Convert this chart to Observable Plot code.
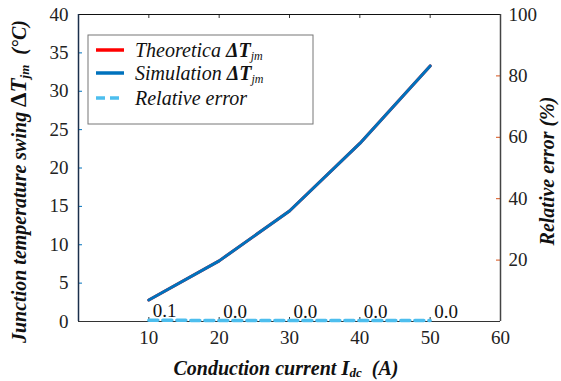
<!DOCTYPE html>
<html>
<head>
<meta charset="utf-8">
<script src="https://cdn.jsdelivr.net/npm/d3@7"></script>
<script src="https://cdn.jsdelivr.net/npm/@observablehq/plot@0.6"></script>
</head>
<body style="margin:0;padding:0;background:#fff">
<div id="chart"></div>
<script>
// ---- data ----
const current = [10, 20, 30, 40, 50];                 // Conduction current (A)
const theoretical = [2.8, 7.9, 14.4, 23.2, 33.3];     // Theoretical ΔTjm (°C)
const simulation = [2.8, 7.9, 14.4, 23.2, 33.3];      // Simulation ΔTjm (°C)
const relError = [0.1, 0.0, 0.0, 0.0, 0.0];           // Relative error (%)
const xTicks = [10, 20, 30, 40, 50, 60];
const yTicks = [0, 5, 10, 15, 20, 25, 30, 35, 40];
const y2Ticks = [20, 40, 60, 80, 100];

const W = 561, H = 381;
const mL = 78, mR = 61, mT = 14, mB = 60;
const pw = W - mL - mR, ph = H - mT - mB;
const k = 40 / 100; // right axis (%) -> left axis units
const SERIF = "Liberation Serif";

const rows = current.map((c, i) => ({x: c, th: theoretical[i], sim: simulation[i], err: relError[i]}));

const BLUE = "#0072BD", RED = "#FF0000", CYAN = "#4DBEEE", ORANGE = "#D95319";

const chart = Plot.plot({
  width: W, height: H,
  marginLeft: mL, marginRight: mR, marginTop: mT, marginBottom: mB,
  style: {background: "#fff", overflow: "visible", fontFamily: SERIF},
  x: {domain: [0, 60]},
  y: {domain: [0, 40]},
  marks: [
    Plot.axisX({ticks: xTicks, tickSize: 0, tickPadding: 9, fontSize: 19, label: null, fill: "#222"}),
    Plot.axisY({ticks: yTicks, tickSize: 0, tickPadding: 10, fontSize: 19, label: null, fill: "#222"}),
    Plot.axisY({anchor: "right", ticks: y2Ticks.map(v => v * k), tickFormat: v => Math.round(v / k), tickSize: 0, tickPadding: 8, fontSize: 19, label: null, textAnchor: "start", fill: "#222"}),
    Plot.tickY(yTicks, {y: d => d, insetRight: pw - 4, stroke: BLUE, strokeWidth: 1}),
    Plot.tickY(y2Ticks.map(v => v * k), {y: d => d, insetLeft: pw - 4, stroke: ORANGE, strokeWidth: 1}),
    Plot.tickX(current, {x: d => d, insetTop: ph - 4, stroke: "#333", strokeWidth: 1}),
    Plot.tickX(current, {x: d => d, insetBottom: ph - 4, stroke: "#333", strokeWidth: 1}),
    Plot.ruleY([40], {stroke: "#111", strokeWidth: 1.2}),
    Plot.ruleY([0], {stroke: "#333", strokeWidth: 1.2}),
    Plot.ruleX([0], {stroke: "#1b2f4b", strokeWidth: 1.5}),
    Plot.ruleX([60], {stroke: "#444", strokeWidth: 1.5}),
    Plot.line(rows, {x: "x", y: d => d.err * k, stroke: CYAN, strokeWidth: 3.5, strokeDasharray: "9,5", dy: -1}),
    Plot.line(rows, {x: "x", y: "th", stroke: RED, strokeWidth: 3}),
    Plot.line(rows, {x: "x", y: "sim", stroke: BLUE, strokeWidth: 3}),
    Plot.text(rows, {x: "x", y: d => d.err * k, text: d => d.err.toFixed(1), textAnchor: "start", lineAnchor: "bottom", dx: 4, dy: -4, fontSize: 19, fill: "#111"})
  ]
});

document.getElementById("chart").appendChild(chart);

const svg = d3.select(chart);
svg.attr("font-family", SERIF);

const xt = svg.append("text")
  .attr("x", mL + pw / 2 - 3).attr("y", 375)
  .attr("text-anchor", "middle")
  .attr("font-size", 20).attr("font-weight", "bold").attr("font-style", "italic").attr("fill", "#111");
xt.append("tspan").text("Conduction current ");
xt.append("tspan").attr("font-size", 21).text("I");
xt.append("tspan").attr("font-size", 13).attr("dy", 2).text("dc");
xt.append("tspan").attr("dy", -2).text("\u00a0\u00a0(A)");

const yt = svg.append("text")
  .attr("transform", `translate(26, ${mT + ph / 2 + 14}) rotate(-90)`)
  .attr("text-anchor", "middle")
  .attr("font-size", 20).attr("font-weight", "bold").attr("font-style", "italic").attr("fill", "#111");
yt.append("tspan").text("Junction temperature swing ");
yt.append("tspan").attr("font-size", 23).attr("font-style", "normal").text("Δ");
yt.append("tspan").attr("font-size", 23).text("T");
yt.append("tspan").attr("font-size", 13).attr("dy", 3).text("jm");
yt.append("tspan").attr("dy", -3).text("\u00a0\u00a0(°C)");

svg.append("text")
  .attr("transform", `translate(554, 171) rotate(-90)`)
  .attr("text-anchor", "middle")
  .attr("font-size", 20).attr("font-weight", "bold").attr("font-style", "italic").attr("fill", "#111")
  .text("Relative error (%)");

const lg = svg.append("g").attr("text-anchor", "start");
lg.append("rect").attr("x", 88).attr("y", 35).attr("width", 225).attr("height", 89)
  .attr("fill", "#fff").attr("stroke", "#777").attr("stroke-width", 1);
const items = [
  {c: RED, dash: null, parts: ["Theoretica ", "ΔT", "jm"]},
  {c: BLUE, dash: null, parts: ["Simulation ", "ΔT", "jm"]},
  {c: CYAN, dash: "9,5", parts: ["Relative error"]}
];
const ly = [50, 73, 98];
items.forEach((it, i) => {
  lg.append("line").attr("x1", 96).attr("x2", 124).attr("y1", ly[i]).attr("y2", ly[i])
    .attr("stroke", it.c).attr("stroke-width", 3.5).attr("stroke-dasharray", it.dash);
  const t = lg.append("text").attr("x", 135).attr("y", ly[i] + 6.5).attr("text-anchor", "start")
    .attr("font-size", 20).attr("font-style", "italic").attr("fill", "#111");
  t.append("tspan").text(it.parts[0]);
  if (it.parts.length > 1) {
    t.append("tspan").attr("font-weight", "bold").text(it.parts[1]);
    t.append("tspan").attr("font-size", 12).attr("dy", 3).text(it.parts[2]);
  }
});

svg.selectAll("text, tspan").attr("font-family", SERIF);
</script>
</body>
</html>
